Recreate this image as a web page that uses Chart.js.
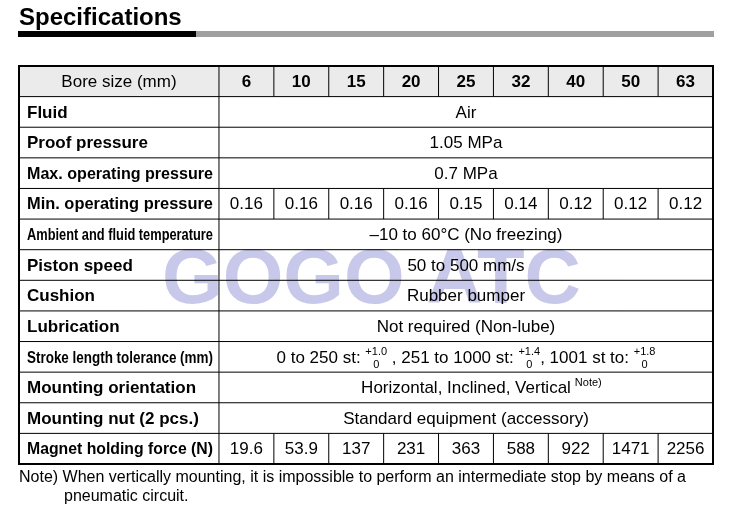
<!DOCTYPE html>
<html><head><meta charset="utf-8">
<script src="https://cdn.jsdelivr.net/npm/chart.js@4"></script>
<style>
body{margin:0;background:#fff;font-family:"Liberation Sans",Arial,sans-serif;}
#wrap{position:relative;width:734px;height:509px;}
canvas{position:absolute;left:0;top:0;}
</style></head><body>
<div id="wrap"><canvas id="c" width="734" height="509"></canvas></div>
<script>
const title = "Specifications";
const boreSizes = ["6","10","15","20","25","32","40","50","63"];
const rowLabels = ["Fluid","Proof pressure","Max. operating pressure","Min. operating pressure","Ambient and fluid temperature","Piston speed","Cushion","Lubrication","Stroke length tolerance (mm)","Mounting orientation","Mounting nut (2 pcs.)","Magnet holding force (N)"];
const minPressure = [0.16,0.16,0.16,0.16,0.15,0.14,0.12,0.12,0.12];
const magnetForce = ["19.6","53.9","137","231","363","588","922","1471","2256"];
const spanText = {0:"Air",1:"1.05 MPa",2:"0.7 MPa",4:"\u201310 to 60\u00B0C (No freezing)",5:"50 to 500 mm/s",6:"Rubber bumper",7:"Not required (Non-lube)",9:"Horizontal, Inclined, Vertical",10:"Standard equipment (accessory)"};
const strokeParts = [["0 to 250 st: ","+1.0","0"],[" , 251 to 1000 st: ","+1.4","0"],[", 1001 st to: ","+1.8","0"]];
const noteLines = ["Note) When vertically mounting, it is impossible to perform an intermediate stop by means of a","pneumatic circuit."];
const labelUnits = 3.643;
const F = '"Liberation Sans", Arial, sans-serif';

function fitText(ctx, t, x, y, maxW, align){
  const w = ctx.measureText(t).width;
  const s = w > maxW ? maxW / w : 1;
  ctx.save(); ctx.translate(x, y); ctx.scale(s, 1);
  ctx.textAlign = align; ctx.fillText(t, 0, 0); ctx.restore();
}

const tablePlugin = {
  id:'tbl',
  afterDraw(chart){
    const ctx = chart.ctx, xs = chart.scales.x, ys = chart.scales.y;
    const X = v => xs.getPixelForValue(v), Y = v => ys.getPixelForValue(v);
    const colX = i => X(labelUnits + i);
    const colC = i => X(labelUnits + i + 0.5);
    const rowC = r => Y(r + 0.5);
    ctx.save();
    ctx.fillStyle = '#000'; ctx.font = 'bold 24px ' + F; ctx.textAlign='left'; ctx.textBaseline='alphabetic';
    ctx.fillText(title, 19, 25);
    ctx.fillStyle='#000'; ctx.fillRect(18,31,178,6);
    ctx.fillStyle='#a0a0a0'; ctx.fillRect(196,31,518,6);
    ctx.fillStyle='#ebebeb'; ctx.fillRect(X(0), Y(0), X(12.643)-X(0), Y(1)-Y(0));
    ctx.font = 'bold 78px ' + F; ctx.fillStyle='rgb(200,200,234)'; ctx.textAlign='left';
    ctx.fillText('GOGO ATC', 162, 303);
    ctx.strokeStyle='#000'; ctx.lineWidth=1;
    ctx.beginPath();
    for(let r=1;r<13;r++){ ctx.moveTo(X(0),Y(r)); ctx.lineTo(X(12.643),Y(r)); }
    ctx.moveTo(X(labelUnits),Y(0)); ctx.lineTo(X(labelUnits),Y(13));
    [0,4,12].forEach(r=>{ for(let i=1;i<9;i++){ ctx.moveTo(colX(i),Y(r)); ctx.lineTo(colX(i),Y(r+1)); } });
    ctx.stroke();
    ctx.lineWidth=2; ctx.strokeRect(X(0),Y(0),X(12.643)-X(0),Y(13)-Y(0));
    ctx.fillStyle='#000'; ctx.textBaseline='middle';
    ctx.font='17px '+F; ctx.textAlign='center';
    ctx.fillText('Bore size (mm)', X(labelUnits/2), rowC(0)+1);
    ctx.font='bold 17px '+F;
    boreSizes.forEach((b,i)=>ctx.fillText(b, colC(i), rowC(0)+1));
    rowLabels.forEach((l,i)=>{
      ctx.font='bold 17px '+F;
      fitText(ctx,l,X(0)+8,rowC(i+1)+1,X(labelUnits)-X(0)-14,'left');
    });
    ctx.font='17px '+F; ctx.textAlign='center';
    const midX = X((labelUnits+12.643)/2);
    Object.keys(spanText).forEach(k=>{ ctx.fillText(spanText[k], midX, rowC(+k+1)+1); });
    ctx.font='17px '+F; const mw = ctx.measureText(spanText[9]).width;
    ctx.font='11px '+F; ctx.textAlign='left'; ctx.fillText('Note)', midX+mw/2+4, rowC(10)-4);
    minPressure.forEach((v,i)=>{ ctx.font='17px '+F; ctx.textAlign='center'; ctx.fillText(v.toFixed(2), colC(i), rowC(4)+1); });
    magnetForce.forEach((v,i)=>{ ctx.font='17px '+F; ctx.textAlign='center'; fitText(ctx, v, colC(i), rowC(12)+1, 48,'center'); });
    let total=0;
    strokeParts.forEach(p=>{ ctx.font='17px '+F; total+=ctx.measureText(p[0]).width; ctx.font='11px '+F; total+=ctx.measureText(p[1]).width; });
    let x = midX - total/2; const yc = rowC(9)+1;
    ctx.textAlign='left';
    strokeParts.forEach(p=>{
      ctx.font='17px '+F; ctx.fillText(p[0], x, yc); x+=ctx.measureText(p[0]).width;
      ctx.font='11px '+F; const w=ctx.measureText(p[1]).width;
      ctx.fillText(p[1], x, yc-6); ctx.fillText(p[2], x+w/2-3, yc+7); x+=w;
    });
    ctx.font='16px '+F; ctx.textAlign='left'; ctx.textBaseline='alphabetic';
    ctx.fillText(noteLines[0], 19, 482);
    ctx.fillText(noteLines[1], 64, 501);
    ctx.restore();
  }
};

new Chart(document.getElementById('c'), {
  type:'scatter',
  data:{datasets:[{data:[], pointRadius:0}]},
  options:{
    responsive:false, animation:false,
    layout:{padding:{left:19,right:21,top:66,bottom:45}},
    plugins:{legend:{display:false},tooltip:{enabled:false}},
    scales:{
      x:{type:'linear',min:0,max:12.643,display:false},
      y:{type:'linear',min:0,max:13,reverse:true,display:false}
    }
  },
  plugins:[tablePlugin]
});
</script></body></html>
